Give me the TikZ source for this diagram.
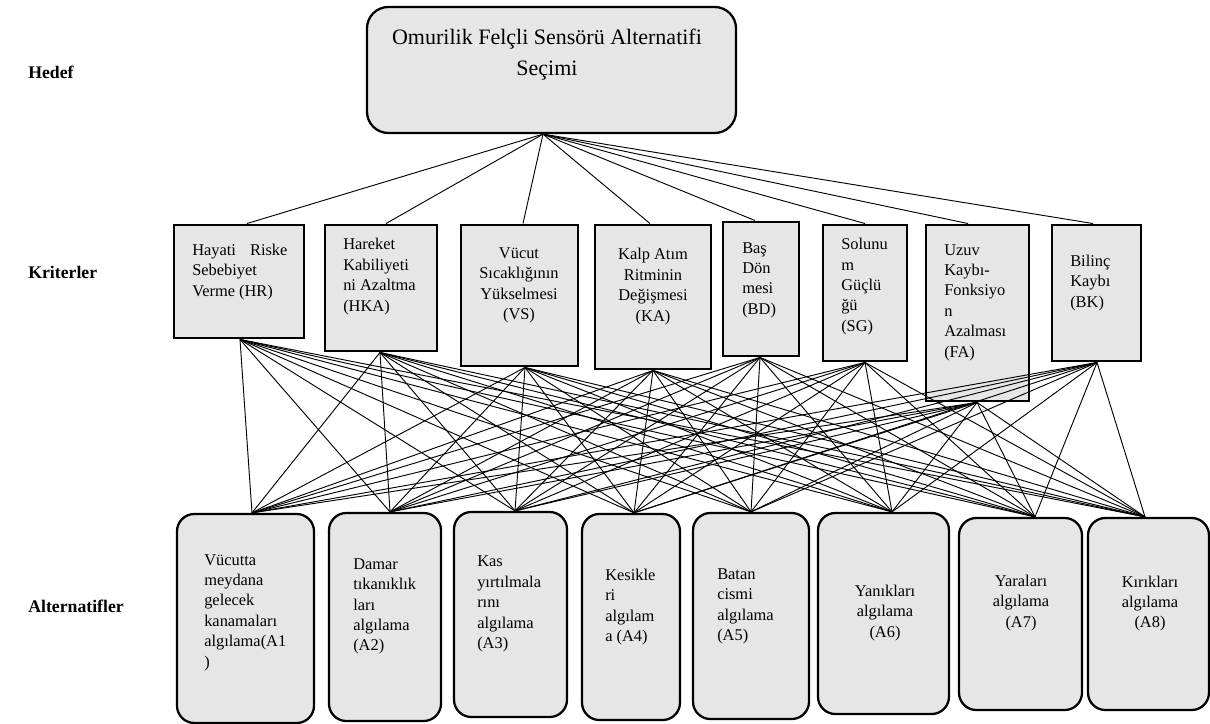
\documentclass[tikz,border=0pt]{standalone}
\usepackage{fontspec}
\setmainfont{Liberation Serif}
\usetikzlibrary{calc}
\definecolor{boxgray}{RGB}{230,230,230}
\begin{document}
\begin{tikzpicture}[x=0.75pt,y=-0.75pt,
  sz/.style 2 args={minimum width=#1*0.75pt, minimum height=#2*0.75pt},
  crit/.style={draw=black, line width=2.2pt, fill=boxgray, inner sep=0pt},
  alt/.style={draw=black, line width=1.7pt, fill=boxgray, rounded corners=13pt, inner sep=0pt},
  goalbox/.style={draw=black, line width=1.7pt, fill=boxgray, rounded corners=16pt, inner sep=0pt},
  txt/.style={inner sep=0pt, font=\fontsize{12.3}{15.3}\selectfont},
  ltxt/.style={txt, anchor=west, align=left},
  ctxt/.style={txt, anchor=center, align=center},
  lab/.style={inner sep=0pt, anchor=west, font=\fontsize{13.3}{16}\selectfont\bfseries},
  link/.style={line width=0.7pt, draw=black}
]
\useasboundingbox (0,0) rectangle (1210,724);

% level labels
\node[lab] (lhedef) at (28,72) {Hedef};
\node[lab] (lkrit) at (28,272) {Kriterler};
\node[lab] (lalt) at (28,606) {Alternatifler};

% goal
\node[goalbox, sz={369}{126}] (goal) at (551.5,70) {};
\node[inner sep=0pt, align=center, font=\fontsize{16.5}{23.25}\selectfont] (goalt) at (547,55) {Omurilik Felçli Sensörü Alternatifi\\Seçimi};

% criteria boxes
\node[crit, sz={130}{113}] (hr)  at (239,281.5) {};
\node[crit, sz={112}{126}] (hka) at (381,288) {};
\node[crit, sz={117}{141}] (vs)  at (519.5,295.5) {};
\node[crit, sz={116}{144}] (ka)  at (653,297) {};
\node[crit, sz={76}{134}]  (bd)  at (761,289) {};
\node[crit, sz={84}{136}]  (sg)  at (865,293) {};
\node[crit, sz={103}{176}] (fa)  at (977.5,313) {};
\node[crit, sz={89}{136}]  (bk)  at (1096.5,293) {};

% criteria texts
\node[ltxt] (hrt)  at (192,272) {Hayati\hspace*{10.6pt}Riske\\Sebebiyet\\Verme (HR)};
\node[ltxt] (hkat) at (343,276.5) {Hareket\\Kabiliyeti\\ni Azaltma\\(HKA)};
\node[ctxt] (vst)  at (519,285.5) {Vücut\\Sıcaklığının\\Yükselmesi\\(VS)};
\node[ctxt] (kat)  at (653,286.5) {Kalp Atım\\Ritminin\\Değişmesi\\(KA)};
\node[ltxt] (bdt)  at (742,280) {Baş\\Dön\\mesi\\(BD)};
\node[ltxt] (sgt)  at (841,286.5) {Solunu\\m\\Güçlü\\ğü\\(SG)};
\node[ltxt] (fat)  at (944,302.5) {Uzuv\\Kaybı-\\Fonksiyo\\n\\Azalması\\(FA)};
\node[ltxt] (bkt)  at (1070,283) {Bilinç\\Kaybı\\(BK)};

% alternative boxes
\node[alt, sz={137}{209}] (a1) at (245.5,618.5) {};
\node[alt, sz={112}{208}] (a2) at (385,617) {};
\node[alt, sz={113}{205}] (a3) at (510.5,614.5) {};
\node[alt, sz={98}{206}]  (a4) at (631,617) {};
\node[alt, sz={116}{206}] (a5) at (751,616) {};
\node[alt, sz={131}{201}] (a6) at (883.5,613.5) {};
\node[alt, sz={123}{192}] (a7) at (1020.5,614) {};
\node[alt, sz={121}{192}] (a8) at (1148.5,614) {};

% alternative texts
\node[ltxt] (a1t) at (204,612.5) {Vücutta\\meydana\\gelecek\\kanamaları\\algılama(A1\\)};
\node[ltxt] (a2t) at (353,606.5) {Damar\\tıkanıklık\\ları\\algılama\\(A2)};
\node[ltxt] (a3t) at (477,604) {Kas\\yırtılmala\\rını\\algılama\\(A3)};
\node[ltxt] (a4t) at (605,607) {Kesikle\\ri\\algılam\\a (A4)};
\node[ltxt] (a5t) at (717,606.5) {Batan\\cismi\\algılama\\(A5)};
\node[ctxt] (a6t) at (885,613) {Yanıkları\\algılama\\(A6)};
\node[ctxt] (a7t) at (1021,603) {Yaraları\\algılama\\(A7)};
\node[ctxt] (a8t) at (1150,603.5) {Kırıkları\\algılama\\(A8)};

% connection points
\path (goal.south) ++(-8.5,0) coordinate (goalb);
\foreach \c/\o in {hr/8, hka/5, vs/3.5, ka/-3, bd/-6, sg/0, fa/-9.5, bk/-3.5}
  {\path (\c.north) ++(\o,0) coordinate (\c top);}
\foreach \c/\o in {hr/1, hka/-1, vs/5.5, ka/0, bd/-1, sg/0, fa/-0.5, bk/0.5}
  {\path (\c.south) ++(\o,0) coordinate (\c bot);}
\foreach \a/\o in {a1/6.5, a2/5, a3/4.5, a4/3, a5/0, a6/8.5, a7/14.5, a8/-3.5}
  {\path (\a.north) ++(\o,0) coordinate (\a top);}

% goal -> criteria
\foreach \c in {hr,hka,vs,ka,bd,sg,fa,bk}
  {\draw[link] (goalb) -- (\c top);}

% criteria -> alternatives
\foreach \c in {hr,hka,vs,ka,bd,sg,fa,bk}
  {\foreach \a in {a1,a2,a3,a4,a5,a6,a7,a8}
    {\draw[link] (\c bot) -- (\a top);}}
\end{tikzpicture}
\end{document}
